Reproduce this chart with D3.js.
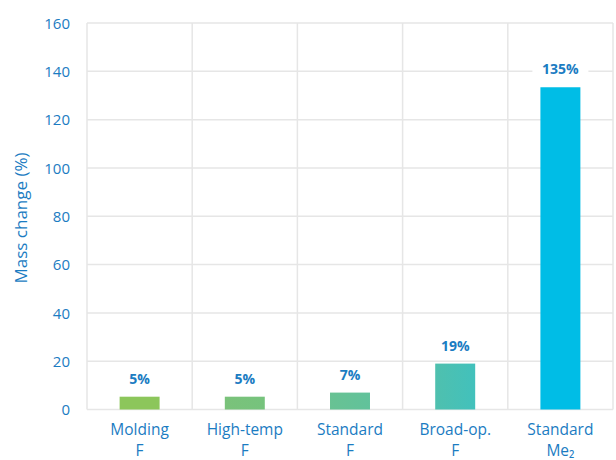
<!DOCTYPE html>
<html><head><meta charset="utf-8">
<script src="https://cdn.jsdelivr.net/npm/d3@7"></script>
<style>body{margin:0;background:#fff;}svg{display:block;font-family:"Open Sans",sans-serif;}</style>
</head><body><svg id="c" width="616" height="460"></svg>
<script>
const categories = [["Molding","F"],["High-temp","F"],["Standard","F"],["Broad-op.","F"],["Standard","Me₂"]];
const values = [5.3, 5.3, 7, 19, 133.4];
const valueLabels = ["5%","5%","7%","19%","135%"];
const barColorsA = ["#8cc65b","#7ac27a","#68c293","#4fc0ae","#00bde6"];
const barColorsB = ["#8cc65b","#76c37d","#61c29b","#42c1bc","#00bde6"];
const yTicks = [0,20,40,60,80,100,120,140,160];

const svg = d3.select("#c");
const m = {l:87, r:613, t:23, b:409.5};
const x = d3.scaleBand().domain(d3.range(categories.length)).range([m.l,m.r]).padding(0);
const y = d3.scaleLinear().domain([0,160]).range([m.b,m.t]);
const textBlue = "#1b7cc2";
const grid = "#e6e6e6";
const font = "'Open Sans',sans-serif";

const defs = svg.append("defs");
values.forEach((v,i)=>{
  const g = defs.append("linearGradient").attr("id","g"+i).attr("x1","0").attr("x2","1").attr("y1","0").attr("y2","0");
  g.append("stop").attr("offset","0").attr("stop-color",barColorsA[i]);
  g.append("stop").attr("offset","1").attr("stop-color",barColorsB[i]);
});

// horizontal grid
svg.append("g").selectAll("line").data(yTicks).join("line")
  .attr("x1",m.l).attr("x2",m.r).attr("y1",d=>y(d)).attr("y2",d=>y(d))
  .attr("stroke",grid).attr("stroke-width",1.5);
// vertical grid
const vx = categories.map((c,i)=>x(i)).concat([m.r]);
svg.append("g").selectAll("line").data(vx).join("line")
  .attr("x1",d=>d).attr("x2",d=>d).attr("y1",m.t).attr("y2",m.b)
  .attr("stroke",grid).attr("stroke-width",1.5);

// y axis tick labels
const yAxis = d3.axisLeft(y).tickValues(yTicks).tickSize(0).tickPadding(17);
const ya = svg.append("g").attr("transform",`translate(${m.l},0)`).call(yAxis);
ya.select(".domain").remove();
ya.selectAll("text").attr("fill",textBlue).attr("font-size",15).attr("font-family",font).attr("dy","0.35em");

// axis title
svg.append("text").attr("transform","translate(27,218) rotate(-90)")
  .attr("text-anchor","middle").attr("fill",textBlue).attr("font-size",17).text("Mass change (%)");

// bars
const bw = x.bandwidth()*0.38;
svg.append("g").selectAll("rect").data(values).join("rect")
  .attr("x",(d,i)=>x(i)+x.bandwidth()/2-bw/2).attr("width",bw)
  .attr("y",d=>y(d)).attr("height",d=>y(0)-y(d))
  .attr("fill",(d,i)=>`url(#g${i})`);

// value labels with white background
const lg = svg.append("g").selectAll("g").data(values).join("g")
  .attr("transform",(d,i)=>`translate(${x(i)+x.bandwidth()/2},${y(d)-13})`);
lg.append("rect").attr("x",-28).attr("y",-16).attr("width",56).attr("height",20).attr("fill","#fff");
lg.append("text").attr("text-anchor","middle").attr("fill",textBlue).attr("font-weight","bold")
  .attr("font-size",14).text((d,i)=>valueLabels[i]);

// category labels (two separate text lines)
const cat = svg.append("g").selectAll("g").data(categories).join("g")
  .attr("transform",(d,i)=>`translate(${x(i)+x.bandwidth()/2},0)`);
cat.selectAll("text").data(d=>d).join("text")
  .attr("text-anchor","middle").attr("fill",textBlue).attr("font-size",15.5)
  .attr("y",(d,j)=>j===0?435:456).text(d=>d);
</script></body></html>
